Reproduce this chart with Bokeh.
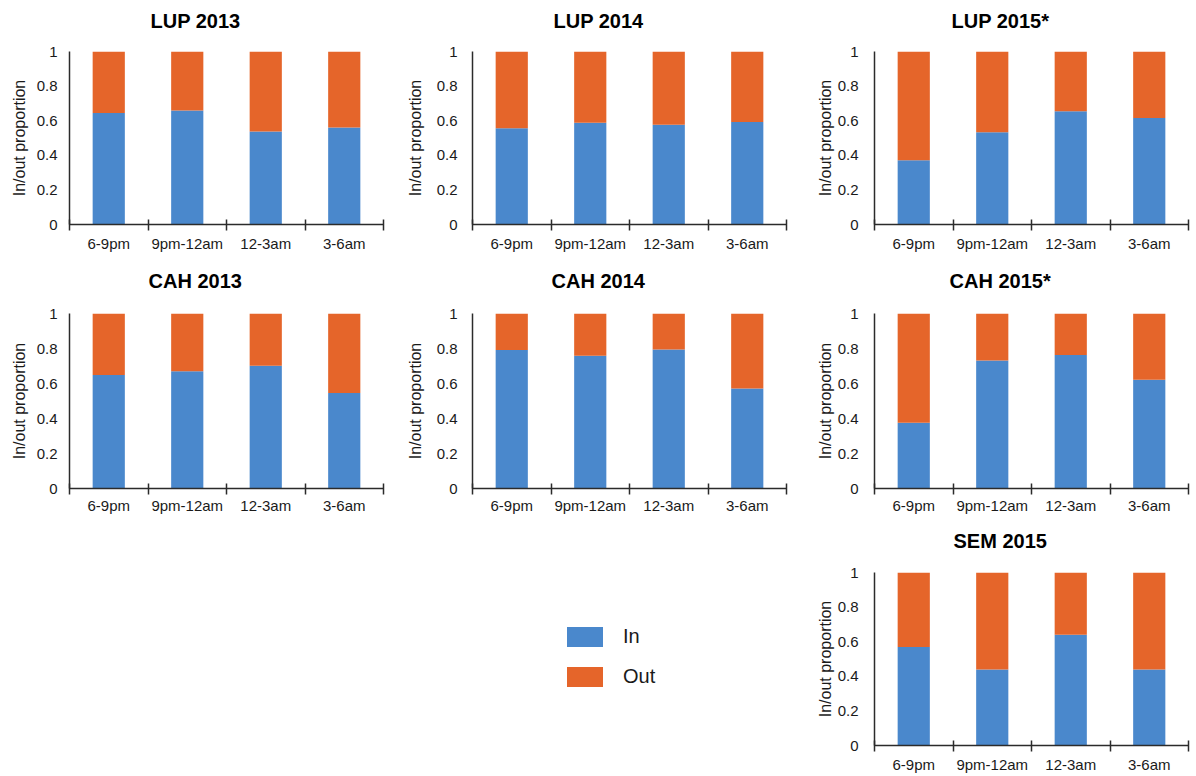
from bokeh.plotting import figure
from bokeh.layouts import column, row, Spacer
from bokeh.models import (Range1d, FixedTicker, CustomJSTickFormatter, NumeralTickFormatter,
                          Legend, LegendItem, ColumnDataSource)
from bokeh.embed import file_html
from bokeh.resources import INLINE

# ---------------- data ----------------
categories = ["6-9pm", "9pm-12am", "12-3am", "3-6am"]
series_names = ["In", "Out"]

in_lup_2013 = [0.644, 0.659, 0.538, 0.561]
in_lup_2014 = [0.557, 0.588, 0.576, 0.592]
in_lup_2015 = [0.371, 0.533, 0.654, 0.615]
in_cah_2013 = [0.649, 0.670, 0.702, 0.546]
in_cah_2014 = [0.791, 0.759, 0.795, 0.571]
in_cah_2015 = [0.376, 0.732, 0.763, 0.622]
in_sem_2015 = [0.570, 0.440, 0.640, 0.440]

titles = ["LUP 2013", "LUP 2014", "LUP 2015*",
          "CAH 2013", "CAH 2014", "CAH 2015*", "SEM 2015"]
in_values = [in_lup_2013, in_lup_2014, in_lup_2015,
             in_cah_2013, in_cah_2014, in_cah_2015, in_sem_2015]

y_ticks = [0, 0.2, 0.4, 0.6, 0.8, 1]

# ---------------- style ----------------
BLUE = "#4a88cc"
ORANGE = "#e5652a"
FONT = "Liberation Sans"
TEXT = "#1a1a1a"
AXIS = "#2b2b2b"
TITLE_PX = 20
# approximate bold glyph advance widths (em) used to centre titles left of the frame centre
BOLD_EM = {"L": .611, "U": .722, "P": .667, "C": .722, "A": .722, "H": .722,
           "S": .667, "E": .667, "M": .833, " ": .278, "*": .389}
TITLE_CENTER = 126  # px from the frame's left edge

col_geom = [  # width, border_left, border_right, ytick standoff, ylabel standoff
    (400, 69, 17, 12, 6),
    (390, 72, 4, 15, 10),
    (404, 84, 6, 16, 1),
]
row_geom = [  # height, border_top, border_bottom, x label standoff, title bottom padding
    (263, 51, 39, 4, 20),
    (261, 50, 36, 2, 22),
    (251, 48, 30, 4, 21),
]


def title_width(t):
    return sum(BOLD_EM.get(ch, .556) for ch in t) * TITLE_PX


def make_panel(title, in_vals, ci, ri):
    w, bl, br, yso, ylso = col_geom[ci]
    h, bt, bb, so, tpad = row_geom[ri]
    p = figure(width=w, height=h, output_backend="svg", toolbar_location=None,
               x_range=Range1d(0, len(categories)), y_range=Range1d(0, 1),
               min_border_left=bl, min_border_right=br,
               min_border_top=bt, min_border_bottom=bb)
    p.title.text = title
    p.title.align = "left"
    p.title.offset = round(TITLE_CENTER - title_width(title) / 2)
    p.title.standoff = 0
    p.title.padding = dict(left=0, right=0, top=0, bottom=tpad)
    p.title.text_font = FONT
    p.title.text_font_size = f"{TITLE_PX}px"
    p.title.text_font_style = "bold"
    p.title.text_color = "#000000"
    p.outline_line_color = None
    p.grid.visible = False

    src = ColumnDataSource(dict(
        x=[i + 0.5 for i in range(len(categories))],
        In=in_vals,
        Out=[1 - v for v in in_vals],
    ))
    p.vbar_stack(series_names, x="x", width=0.41, source=src,
                 color=[BLUE, ORANGE], line_color=None)

    xa = p.xaxis[0]
    xa.ticker = FixedTicker(ticks=[i + 0.5 for i in range(len(categories))],
                            minor_ticks=list(range(len(categories) + 1)))
    xa.formatter = CustomJSTickFormatter(args=dict(cats=categories),
                                         code="return cats[Math.floor(tick)] || '';")
    xa.major_tick_in = 0
    xa.major_tick_out = 0
    xa.minor_tick_in = 5
    xa.minor_tick_out = 6
    xa.minor_tick_line_color = AXIS
    xa.minor_tick_line_width = 1.5
    xa.axis_line_color = AXIS
    xa.axis_line_width = 1.5
    xa.major_label_text_font = FONT
    xa.major_label_text_font_size = "15px"
    xa.major_label_text_color = TEXT
    xa.major_label_standoff = so

    ya = p.yaxis[0]
    ya.ticker = FixedTicker(ticks=y_ticks)
    ya.formatter = NumeralTickFormatter(format="0.[0]")
    ya.major_tick_in = 0
    ya.major_tick_out = 0
    ya.minor_tick_in = 0
    ya.minor_tick_out = 0
    ya.axis_line_color = AXIS
    ya.axis_line_width = 1.5
    ya.major_label_text_font = FONT
    ya.major_label_text_font_size = "15px"
    ya.major_label_text_color = TEXT
    ya.major_label_standoff = yso
    ya.axis_label = "In/out proportion"
    ya.axis_label_text_font = FONT
    ya.axis_label_text_font_size = "16px"
    ya.axis_label_text_font_style = "normal"
    ya.axis_label_text_color = TEXT
    ya.axis_label_standoff = ylso
    return p


panels = [make_panel(t, v, i % 3, i // 3) for i, (t, v) in enumerate(zip(titles[:6], in_values[:6]))]
sem = make_panel(titles[6], in_values[6], 2, 2)

# legend figure (row 3, middle column); borders match the SEM panel so the row aligns
lh, lbt, lbb = row_geom[2][0], row_geom[2][1], row_geom[2][2]
LEG_MARGIN = 52
leg_fig = figure(width=col_geom[1][0], height=lh, output_backend="svg", toolbar_location=None,
                 x_range=Range1d(0, 1), y_range=Range1d(0, 1),
                 x_axis_location=None, y_axis_location=None,
                 min_border_left=162 - LEG_MARGIN, min_border_top=lbt,
                 min_border_right=0, min_border_bottom=lbb)
leg_fig.grid.visible = False
leg_fig.outline_line_color = None
zero_src = ColumnDataSource(dict(x=[0.5], top=[0.0]))
r_in = leg_fig.vbar(x="x", top="top", width=0.1, source=zero_src, color=BLUE, line_color=None)
r_out = leg_fig.vbar(x="x", top="top", width=0.1, source=zero_src, color=ORANGE, line_color=None)
legend = Legend(items=[LegendItem(label=series_names[0], renderers=[r_in]),
                       LegendItem(label=series_names[1], renderers=[r_out])],
                location="top_left", padding=0, margin=LEG_MARGIN, spacing=15,
                glyph_width=45, glyph_height=25, label_height=20, label_standoff=16,
                label_text_font=FONT, label_text_font_size="20px", label_text_color=TEXT,
                border_line_color=None, background_fill_alpha=0)
leg_fig.add_layout(legend, "center")

layout = column(
    row(panels[0], panels[1], panels[2]),
    row(panels[3], panels[4], panels[5]),
    row(Spacer(width=col_geom[0][0], height=lh), leg_fig, sem),
)

open("out.html", "w").write(file_html(layout, INLINE))
